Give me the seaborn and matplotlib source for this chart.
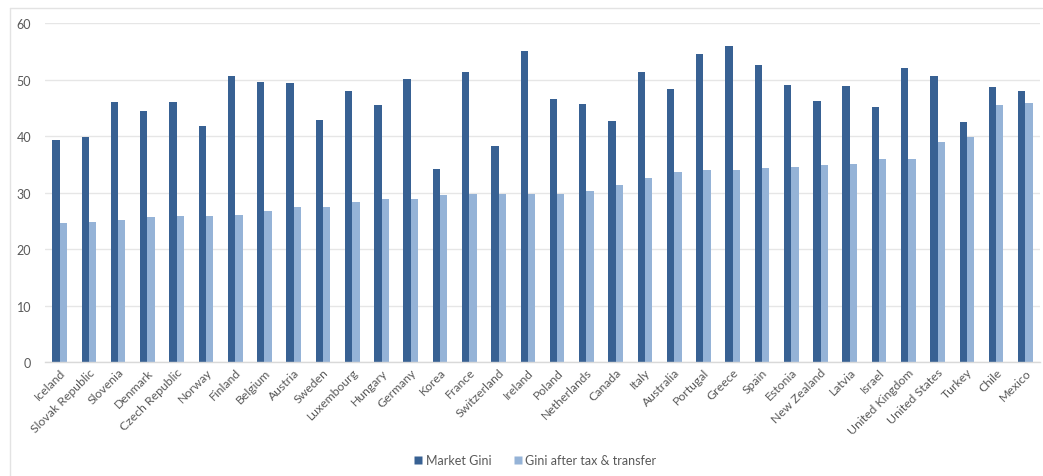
import matplotlib
matplotlib.use("Agg")
import matplotlib.pyplot as plt
from matplotlib.lines import Line2D
import seaborn as sns
import pandas as pd

countries = [
    "Iceland", "Slovak Republic", "Slovenia", "Denmark", "Czech Republic",
    "Norway", "Finland", "Belgium", "Austria", "Sweden", "Luxembourg",
    "Hungary", "Germany", "Korea", "France", "Switzerland", "Ireland",
    "Poland", "Netherlands", "Canada", "Italy", "Australia", "Portugal",
    "Greece", "Spain", "Estonia", "New Zealand", "Latvia", "Israel",
    "United Kingdom", "United States", "Turkey", "Chile", "Mexico",
]
market_gini = [
    39.3, 39.8, 46.1, 44.5, 46.1, 41.7, 50.7, 49.6, 49.4, 42.9, 47.9,
    45.5, 50.1, 34.2, 51.3, 38.2, 55.0, 46.5, 45.7, 42.7, 51.3, 48.3,
    54.5, 56.0, 52.6, 49.1, 46.2, 48.8, 45.1, 52.0, 50.7, 42.4, 48.6, 47.9,
]
gini_after = [
    24.6, 24.8, 25.1, 25.7, 25.8, 25.8, 26.1, 26.7, 27.4, 27.4, 28.4,
    28.9, 28.9, 29.5, 29.8, 29.8, 29.8, 29.8, 30.3, 31.4, 32.6, 33.7,
    33.9, 33.9, 34.4, 34.6, 34.9, 35.0, 35.9, 35.9, 39.0, 39.8, 45.4, 45.9,
]
series_names = ["Market Gini", "Gini after tax & transfer"]
y_ticks = [0, 10, 20, 30, 40, 50, 60]

dark_blue = "#386193"
light_blue = "#95b3d7"
text_gray = "#595959"

df = pd.DataFrame({
    "country": countries * 2,
    "value": market_gini + gini_after,
    "series": [series_names[0]] * len(countries) + [series_names[1]] * len(countries),
})

sns.set_theme(style="white")
plt.rcParams["font.family"] = ["Lato", "DejaVu Sans"]

fig = plt.figure(figsize=(10.43, 4.77), dpi=100)
ax = fig.add_axes([45 / 1043, 1 - 363 / 477, 995 / 1043, 339 / 477])

sns.barplot(
    data=df, x="country", y="value", hue="series",
    palette=[dark_blue, light_blue], width=0.5, gap=0,
    ax=ax, legend=False, saturation=1,
    edgecolor="none",
)

ax.set_ylim(0, 60)
ax.set_yticks(y_ticks)
ax.set_xlim(-0.5, len(countries) - 0.5)
ax.yaxis.grid(True, color="#e6e6e6", linewidth=1.0)
ax.set_axisbelow(True)
for side in ["top", "right", "left"]:
    ax.spines[side].set_visible(False)
ax.spines["bottom"].set_color("#d9d9d9")
ax.spines["bottom"].set_linewidth(1.0)
ax.set_xlabel("")
ax.set_ylabel("")
ax.tick_params(axis="y", length=0, labelsize=9, colors=text_gray, pad=10)
ax.tick_params(axis="x", length=0, labelsize=8.8, colors=text_gray, pad=3)
for lbl in ax.get_yticklabels():
    lbl.set_horizontalalignment("right")
ax.set_xticks(range(len(countries)))
ax.set_xticklabels(countries, rotation=45, ha="right", va="top",
                   rotation_mode="anchor")

# chart frame edges
fig.add_artist(Line2D([10 / 1043, 1042 / 1043], [1 - 9 / 477, 1 - 9 / 477],
                      color="#e3e3e3", linewidth=1.0))
fig.add_artist(Line2D([10 / 1043, 10 / 1043], [0, 1 - 9 / 477],
                      color="#e3e3e3", linewidth=1.0))

handles = [
    Line2D([], [], marker="s", linestyle="none", markersize=6,
           markerfacecolor=dark_blue, markeredgecolor="none"),
    Line2D([], [], marker="s", linestyle="none", markersize=6,
           markerfacecolor=light_blue, markeredgecolor="none"),
]
fig.legend(handles, series_names, loc="center", bbox_to_anchor=(534 / 1043, 1 - 461 / 477),
           ncol=2, frameon=False, fontsize=9, labelcolor=text_gray,
           handletextpad=0.1, columnspacing=1.6, handlelength=1.0)

fig.savefig("out.png", dpi=100, facecolor="white")
